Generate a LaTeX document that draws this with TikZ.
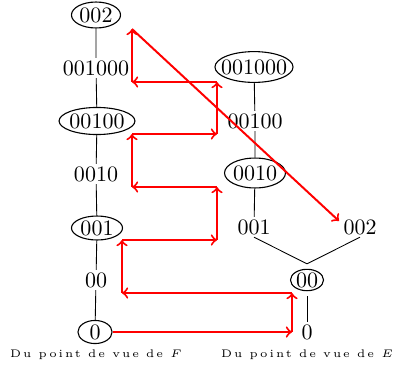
\documentclass[tikz,border=0pt]{standalone}
\usepackage{fontspec}
\usetikzlibrary{shapes.geometric}
\newfontfamily\capfont[LetterSpace=18,Extension=.otf]{lmroman5-regular}
\begin{document}
\begin{tikzpicture}[x=0.4545pt,y=-0.4545pt,
  lab/.style={inner sep=1pt},
  ov/.style={ellipse,draw,inner sep=0pt,line width=0.5pt},
  tree/.style={draw,line width=0.4pt},
  tr/.style={draw=red,line width=0.9pt,->},
  captxt/.style={font=\tiny\capfont,inner sep=0pt}]
\useasboundingbox (0,0) rectangle (393,371);
% left column
\node[ov,minimum width=22.3pt,minimum height=11.8pt] (l002) at (96,15) {\makebox[0pt]{002}};
\node[lab] (l001000) at (96,68) {001000};
\node[ov,minimum width=34.5pt,minimum height=12.3pt] (l00100) at (97,121) {\makebox[0pt]{00100}};
\node[lab] (l0010) at (96,174) {0010};
\node[ov,minimum width=23.2pt,minimum height=10.9pt] (l001) at (97,228) {\makebox[0pt]{001}};
\node[lab] (l00) at (96,280) {00};
\node[ov,minimum width=15.5pt,minimum height=10.5pt] (l0) at (95,332) {\makebox[0pt]{0}};
% right column
\node[ov,minimum width=35.5pt,minimum height=14pt] (r001000) at (254,67) {\makebox[0pt]{001000}};
\node[lab] (r00100) at (255,121) {00100};
\node[ov,minimum width=27.7pt,minimum height=13.6pt] (r0010) at (255,173) {\makebox[0pt]{0010}};
\node[lab] (r001) at (254,227) {001};
\node[lab] (r002) at (360,227) {002};
\node[ov,minimum width=15pt,minimum height=9.5pt,outer sep=2.5pt] (r00) at (307,280) {\makebox[0pt]{00}};
\node[lab] (r0) at (307,332) {0};
% captions
\node[captxt] (capF) at (96,355) {Du point de vue de $F$};
\node[captxt] (capE) at (307,355) {Du point de vue de $E$};
% tree edges
\draw[tree] (l002) -- (l001000) -- (l00100) -- (l0010) -- (l001) -- (l00) -- (l0);
\draw[tree] (r001000) -- (r00100) -- (r0010) -- (r001);
\draw[tree] (r001.south) -- (r00.north);
\draw[tree] (r002.south) -- (r00.north);
\draw[tree] (r00) -- (r0);
% red path
\coordinate (a1) at (292,332);
\coordinate (a2) at (292,293);
\coordinate (a3) at (122,293);
\coordinate (a4) at (122,240);
\coordinate (a5) at (217,240);
\coordinate (a6) at (217,187);
\coordinate (a7) at (132,187);
\coordinate (a8) at (132,134);
\coordinate (a9) at (217,134);
\coordinate (a10) at (217,82);
\coordinate (a11) at (132,82);
\coordinate (a12) at (132,29);
\coordinate (a13) at (339,221);
\draw[tr] (l0) -- (a1);
\draw[tr] (a1) -- (a2);
\draw[tr] (a2) -- (a3);
\draw[tr] (a3) -- (a4);
\draw[tr] (a4) -- (a5);
\draw[tr] (a5) -- (a6);
\draw[tr] (a6) -- (a7);
\draw[tr] (a7) -- (a8);
\draw[tr] (a8) -- (a9);
\draw[tr] (a9) -- (a10);
\draw[tr] (a10) -- (a11);
\draw[tr] (a11) -- (a12);
\draw[tr] (a12) -- (a13);
\end{tikzpicture}
\end{document}
